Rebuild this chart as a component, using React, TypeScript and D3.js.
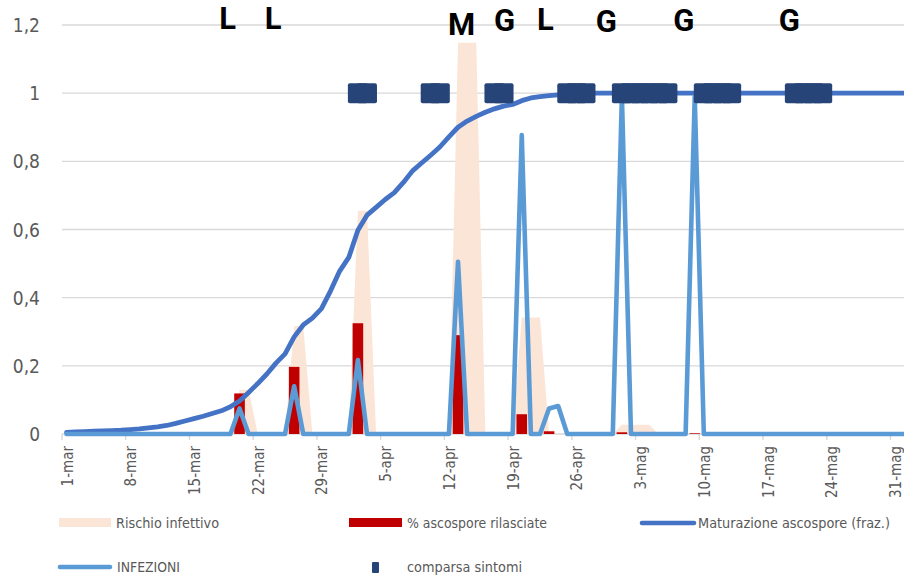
import React from "react";
import * as d3 from "d3";

// ---------- DATA ----------
// daily categories from 1-mar (index 0)
const dayCount = 94;
const xTickLabels = ["1-mar", "8-mar", "15-mar", "22-mar", "29-mar", "5-apr", "12-apr", "19-apr", "26-apr", "3-mag", "10-mag", "17-mag", "24-mag", "31-mag"];
const yTickValues = [0, 0.2, 0.4, 0.6, 0.8, 1, 1.2];
const yTickLabels = ["0", "0,2", "0,4", "0,6", "0,8", "1", "1,2"];

// Maturazione ascospore (fraz.)
const maturazione = [
  0.005, 0.006, 0.007, 0.008, 0.009, 0.010, 0.011, 0.013, 0.015, 0.018,
  0.021, 0.025, 0.031, 0.038, 0.045, 0.052, 0.060, 0.068, 0.080, 0.097,
  0.122, 0.148, 0.176, 0.208, 0.235, 0.285, 0.320, 0.340, 0.368, 0.420,
  0.478, 0.518, 0.598, 0.642, 0.665, 0.688, 0.708, 0.738, 0.772, 0.795,
  0.818, 0.842, 0.872, 0.900, 0.918, 0.932, 0.944, 0.954, 0.962, 0.967,
  0.978, 0.986, 0.990, 0.993, 0.995, 0.997, 0.998, 0.999, 1, 1,
  1, 1, 1, 1, 1, 1, 1, 1, 1, 1,
  1, 1, 1, 1, 1, 1, 1, 1, 1, 1,
  1, 1, 1, 1, 1, 1, 1, 1, 1, 1,
  1, 1, 1, 1,
];

// Rischio infettivo: [day index, value]
const rischioDays = [19, 20, 25, 26, 32, 33, 43, 44, 45, 50, 51, 52, 61, 62, 63, 64];
const rischioValues = [0.13, 0.13, 0.317, 0.317, 0.655, 0.655, 1.148, 1.148, 1.148, 0.342, 0.342, 0.342, 0.027, 0.027, 0.027, 0.027];

// % ascospore rilasciate
const ascosporeDays = [19, 25, 32, 43, 50, 53, 61, 69];
const ascosporeValues = [0.119, 0.197, 0.325, 0.29, 0.058, 0.008, 0.005, 0.002];

// INFEZIONI
const infezioniDays = [19, 25, 32, 43, 50, 53, 54, 61, 69];
const infezioniValues = [0.075, 0.14, 0.217, 0.505, 0.877, 0.075, 0.082, 0.99, 0.99];

// comparsa sintomi (value 1)
const sintomiDays = [32, 33, 40, 41, 47, 48, 55, 56, 57, 61, 62, 63, 64, 65, 66, 70, 71, 72, 73, 80, 81, 82, 83];

// top annotations
const noteLetters = ["L", "L", "M", "G", "L", "G", "G", "G"];
const notePos = [17.7, 22.7, 43.4, 48.1, 52.6, 59.3, 67.8, 79.4];
const noteLevel = [1.188, 1.189, 1.171, 1.182, 1.185, 1.179, 1.182, 1.182];

const legendRow1 = ["Rischio infettivo", "% ascospore rilasciate", "Maturazione ascospore (fraz.)"];
const legendRow2 = ["INFEZIONI", "comparsa sintomi"];

// ---------- LAYOUT ----------
const W = 904;
const H = 577;
const PLOT_L = 62;
const STEP = 9.104;
const Y0 = 434;
const Y1 = 25;

const C_PEACH = "#FBE5D6";
const C_RED = "#C00000";
const C_DARK = "#4472C4";
const C_LIGHT = "#5B9BD5";
const C_NAVY = "#264478";
const C_GRID = "#D9D9D9";
const C_TEXT = "#595959";
const FONT = "'Liberation Sans Narrow', 'DejaVu Sans Condensed', 'Liberation Sans', sans-serif";

function expand(idx: number[], vals: number[], n: number): number[] {
  const out = new Array(n).fill(0);
  idx.forEach((d, i) => (out[d] = vals[i]));
  return out;
}

export default function App() {
  const days = d3.range(dayCount);
  const x = d3.scaleBand<number>().domain(days).range([PLOT_L, PLOT_L + dayCount * STEP]).padding(0);
  const bw = x.bandwidth();
  const cx = (d: number) => (x(d) as number) + bw / 2;
  const xl = d3.scaleLinear().domain([0, dayCount]).range([PLOT_L, PLOT_L + dayCount * STEP]);
  const y = d3.scaleLinear().domain([0, 1.2]).range([Y0, Y1]);

  const rischio = expand(rischioDays, rischioValues, dayCount);
  const infezioni = expand(infezioniDays, infezioniValues, dayCount);

  const area = d3.area<number>().x((_, i) => cx(i)).y0(y(0)).y1((v) => y(v));
  const line = d3.line<number>().x((_, i) => cx(i)).y((v) => y(v));

  const tickDays = xTickLabels.map((_, i) => i * 7);
  const barW = 10.6;
  const mk = 20;

  return (
    <svg width={W} height={H} style={{ position: "absolute", left: 0, top: 0, background: "#fff" }} fontFamily={FONT}>
      <rect x={0} y={0} width={W} height={H} fill="#fff" />
      {/* gridlines */}
      {yTickValues.map((v, i) => (
        <g key={"g" + i}>
          <line x1={PLOT_L} x2={W} y1={y(v)} y2={y(v)} stroke={C_GRID} strokeWidth={1.4} />
          <text x={40} y={y(v)} textAnchor="end" dominantBaseline="central" fontSize={19} fill={C_TEXT}>
            {yTickLabels[i]}
          </text>
        </g>
      ))}
      {/* x ticks */}
      {tickDays.map((d, i) => (
        <g key={"t" + i}>
          <line x1={x(d)} x2={x(d)} y1={Y0} y2={Y0 + 6} stroke={C_GRID} strokeWidth={1.4} />
          <text
            transform={`translate(${cx(d) + 1},${Y0 + 12}) rotate(-90)`}
            textAnchor="end"
            dominantBaseline="central"
            fontSize={15}
            fill={C_TEXT}
          >
            {xTickLabels[i]}
          </text>
        </g>
      ))}
      {/* Rischio infettivo area */}
      <path d={area(rischio) || ""} fill={C_PEACH} />
      {/* % ascospore bars */}
      {ascosporeDays.map((d, i) => (
        <rect key={"b" + i} x={cx(d) - barW / 2} y={y(ascosporeValues[i])} width={barW} height={y(0) - y(ascosporeValues[i])} fill={C_RED} />
      ))}
      {/* Maturazione */}
      <path d={line(maturazione) || ""} fill="none" stroke={C_DARK} strokeWidth={4.8} strokeLinejoin="round" strokeLinecap="round" />
      {/* INFEZIONI */}
      <path d={line(infezioni) || ""} fill="none" stroke={C_LIGHT} strokeWidth={4.6} strokeLinejoin="round" strokeLinecap="round" />
      {/* comparsa sintomi */}
      {sintomiDays.map((d, i) => (
        <rect key={"s" + i} x={cx(d) - mk / 2} y={y(1) - mk / 2} width={mk} height={mk} rx={2} fill={C_NAVY} />
      ))}
      {/* annotations */}
      {noteLetters.map((t, i) => (
        <text key={"n" + i} x={xl(notePos[i] + 0.5)} y={y(noteLevel[i])} textAnchor="middle" fontSize={31} fontWeight={700} fontFamily="Roboto, 'Open Sans', sans-serif" fill="#000">
          {t}
        </text>
      ))}
      {/* legend */}
      <g fontSize={14} fill={C_TEXT}>
        <rect x={59} y={518} width={52} height={9} fill={C_PEACH} />
        <text x={116} y={523} dominantBaseline="central" textLength={103} lengthAdjust="spacingAndGlyphs">{legendRow1[0]}</text>
        <rect x={349} y={518} width={53} height={9} fill={C_RED} />
        <text x={407} y={523} dominantBaseline="central" textLength={140} lengthAdjust="spacingAndGlyphs">{legendRow1[1]}</text>
        <line x1={642} x2={694} y1={523} y2={523} stroke={C_DARK} strokeWidth={4.6} strokeLinecap="round" />
        <text x={698} y={523} dominantBaseline="central" textLength={192} lengthAdjust="spacingAndGlyphs">{legendRow1[2]}</text>
        <line x1={60} x2={110} y1={567} y2={567} stroke={C_LIGHT} strokeWidth={4.6} strokeLinecap="round" />
        <text x={117} y={567} dominantBaseline="central" textLength={63} lengthAdjust="spacingAndGlyphs">{legendRow2[0]}</text>
        <rect x={372} y={562} width={7} height={11} rx={1} fill={C_NAVY} />
        <text x={407} y={567} dominantBaseline="central" textLength={115} lengthAdjust="spacingAndGlyphs">{legendRow2[1]}</text>
      </g>
    </svg>
  );
}
